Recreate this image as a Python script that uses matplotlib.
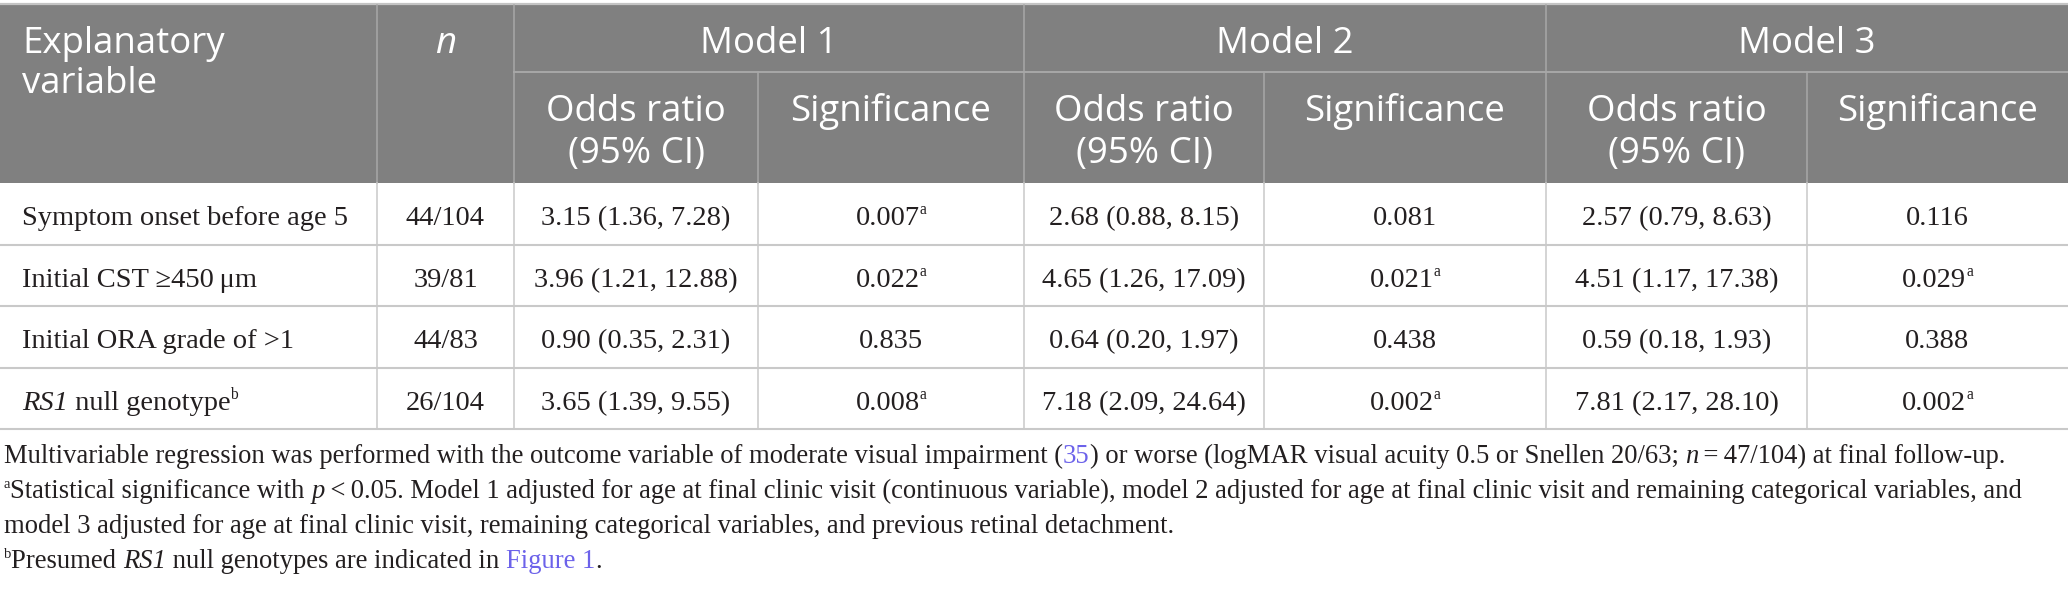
import matplotlib
matplotlib.use("Agg")
import matplotlib.pyplot as plt
from matplotlib.font_manager import FontProperties

# ---------------- data ----------------
variables = ["Symptom onset before age 5", "Initial CST \u2265450\u2009\u03bcm",
             "Initial ORA grade of >1", "RS1 null genotype"]
n_values = ["44/104", "39/81", "44/83", "26/104"]

or_m1 = [3.15, 3.96, 0.90, 3.65]
lo_m1 = [1.36, 1.21, 0.35, 1.39]
hi_m1 = [7.28, 12.88, 2.31, 9.55]
p_m1 = ["0.007", "0.022", "0.835", "0.008"]
sigmark_m1 = ["a", "a", "", "a"]

or_m2 = [2.68, 4.65, 0.64, 7.18]
lo_m2 = [0.88, 1.26, 0.20, 2.09]
hi_m2 = [8.15, 17.09, 1.97, 24.64]
p_m2 = ["0.081", "0.021", "0.438", "0.002"]
sigmark_m2 = ["", "a", "", "a"]

or_m3 = [2.57, 4.51, 0.59, 7.81]
lo_m3 = [0.79, 1.17, 0.18, 2.17]
hi_m3 = [8.63, 17.38, 1.93, 28.10]
p_m3 = ["0.116", "0.029", "0.388", "0.002"]
sigmark_m3 = ["", "a", "", "a"]

model_names = ["Model 1", "Model 2", "Model 3"]
sub_headers = ["Odds ratio\n(95% CI)", "Significance"]

# ---------------- figure ----------------
W, H = 2068, 594
fig = plt.figure(figsize=(W / 100, H / 100), dpi=100)
ax = fig.add_axes([0, 0, 1, 1])
ax.set_xlim(0, W)
ax.set_ylim(H, 0)
ax.axis("off")
renderer = fig.canvas.get_renderer()

SANS = "Open Sans"
SERIF = "Liberation Serif"
TXT = "#231f20"
LINK = "#6c62ea"
HEAD_BG = "#808080"
HEAD_LINE = "#a8a8a8"
BODY_LINE = "#c9c9c9"


def fprop(family, size, style="normal"):
    return FontProperties(family=family, size=size, style=style)


def twidth(s, prop):
    w1, _, _ = renderer.get_text_width_height_descent("." + s + ".", prop, ismath=False)
    w0, _, _ = renderer.get_text_width_height_descent("..", prop, ismath=False)
    return w1 - w0


def fit_size(s, family, target, style="normal"):
    w = twidth(s, fprop(family, 10, style))
    return 10 * target / w


def rich(x, y, segs, size, family=SERIF, color=TXT, ha="left"):
    items = []
    total = 0.0
    for seg in segs:
        if isinstance(seg, str):
            seg = {"t": seg}
        sup = seg.get("sup", False)
        fs = size * 0.55 if sup else size
        prop = fprop(family, fs, seg.get("style", "normal"))
        w = twidth(seg["t"], prop)
        items.append((seg, prop, w, sup))
        total += w
    cx = x - total / 2 if ha == "center" else x
    for seg, prop, w, sup in items:
        yy = y - (size * 100 / 72) * 0.38 if sup else y
        ax.text(cx, yy, seg["t"], fontproperties=prop, color=seg.get("color", color),
                ha="left", va="baseline")
        cx += w


# ---------------- geometry ----------------
col_edges = [0, 377, 514, 758, 1024, 1264, 1546, 1807, W]
head_top, head_mid, head_bot = 5, 72, 183
row_edges = [183, 244.5, 306, 367.5, 429]

head_size = fit_size("Explanatory", SANS, 203)
body_size = fit_size("Symptom onset before age 5", SERIF, 325)
foot_size = fit_size("model 3 adjusted for age at final clinic visit, remaining categorical "
                     "variables, and previous retinal detachment.", SERIF, 1170)

# header background
ax.add_patch(plt.Rectangle((0, head_top), W, head_bot - head_top, facecolor=HEAD_BG,
                           edgecolor="none", zorder=0))
ax.plot([0, W], [4, 4], color="#c4c4c4", lw=1.6, solid_capstyle="butt")
# header lines
for x in [col_edges[1], col_edges[2], col_edges[4], col_edges[6]]:
    ax.plot([x, x], [head_top, head_bot], color=HEAD_LINE, lw=1.1, zorder=2)
for x in [col_edges[3], col_edges[5], col_edges[7]]:
    ax.plot([x, x], [head_mid, head_bot], color=HEAD_LINE, lw=1.1, zorder=2)
ax.plot([col_edges[2], W], [head_mid, head_mid], color=HEAD_LINE, lw=1.4, zorder=2)

# body lines
for y in row_edges[1:]:
    ax.plot([0, W], [y, y], color=BODY_LINE, lw=1.5, zorder=2)
for x in col_edges[1:-1]:
    ax.plot([x, x], [head_bot, row_edges[-1]], color=BODY_LINE, lw=1.1, zorder=2)

# header text
ax.text(22, 53, "Explanatory", fontproperties=fprop(SANS, head_size), color="white",
        ha="left", va="baseline")
ax.text(22, 93, "variable", fontproperties=fprop(SANS, head_size), color="white",
        ha="left", va="baseline")
ax.text((col_edges[1] + col_edges[2]) / 2, 53, "n",
        fontproperties=fprop(SANS, head_size, "italic"), color="white", ha="center",
        va="baseline")
for k, name in enumerate(model_names):
    x0 = col_edges[2 + 2 * k]
    x1 = col_edges[4 + 2 * k]
    ax.text((x0 + x1) / 2, 53, name, fontproperties=fprop(SANS, head_size), color="white",
            ha="center", va="baseline")
    for j, sh in enumerate(sub_headers):
        a = col_edges[2 + 2 * k + j]
        b = col_edges[3 + 2 * k + j]
        for li, line in enumerate(sh.split("\n")):
            ax.text((a + b) / 2, 121 + 42 * li, line, fontproperties=fprop(SANS, head_size),
                    color="white", ha="center", va="baseline")

# body text
models = [(or_m1, lo_m1, hi_m1, p_m1, sigmark_m1),
          (or_m2, lo_m2, hi_m2, p_m2, sigmark_m2),
          (or_m3, lo_m3, hi_m3, p_m3, sigmark_m3)]
for i, var in enumerate(variables):
    top, bot = row_edges[i], row_edges[i + 1]
    yb = top + 0.685 * (bot - top)
    if var.startswith("RS1"):
        rich(22, yb, [{"t": "RS1", "style": "italic"}, var[3:], {"t": "b", "sup": True}],
             body_size)
    else:
        rich(22, yb, [var], body_size)
    rich((col_edges[1] + col_edges[2]) / 2, yb, [n_values[i]], body_size, ha="center")
    for k, (orv, lo, hi, pv, mk) in enumerate(models):
        a, b, c = col_edges[2 + 2 * k], col_edges[3 + 2 * k], col_edges[4 + 2 * k]
        rich((a + b) / 2, yb, [f"{orv[i]:.2f} ({lo[i]:.2f}, {hi[i]:.2f})"], body_size,
             ha="center")
        segs = [pv[i]]
        if mk[i]:
            segs.append({"t": mk[i], "sup": True})
        rich((b + c) / 2, yb, segs, body_size, ha="center")

# footnotes
fx = 4
fy = [463, 498, 533, 568]
rich(fx, fy[0], ["Multivariable regression was performed with the outcome variable of moderate "
                 "visual impairment (", {"t": "35", "color": LINK},
                 ") or worse (logMAR visual acuity 0.5 or Snellen 20/63; ",
                 {"t": "n", "style": "italic"}, "\u2009=\u200947/104) at final follow-up."],
     foot_size)
rich(fx, fy[1], [{"t": "a", "sup": True}, "Statistical significance with ",
                 {"t": "p", "style": "italic"},
                 "\u2009<\u20090.05. Model 1 adjusted for age at final clinic visit (continuous "
                 "variable), model 2 adjusted for age at final clinic visit and remaining "
                 "categorical variables, and"], foot_size)
rich(fx, fy[2], ["model 3 adjusted for age at final clinic visit, remaining categorical "
                 "variables, and previous retinal detachment."], foot_size)
rich(fx, fy[3], [{"t": "b", "sup": True}, "Presumed ", {"t": "RS1", "style": "italic"},
                 " null genotypes are indicated in ", {"t": "Figure 1", "color": LINK}, "."],
     foot_size)

fig.savefig("out.png", dpi=100, facecolor="white")
